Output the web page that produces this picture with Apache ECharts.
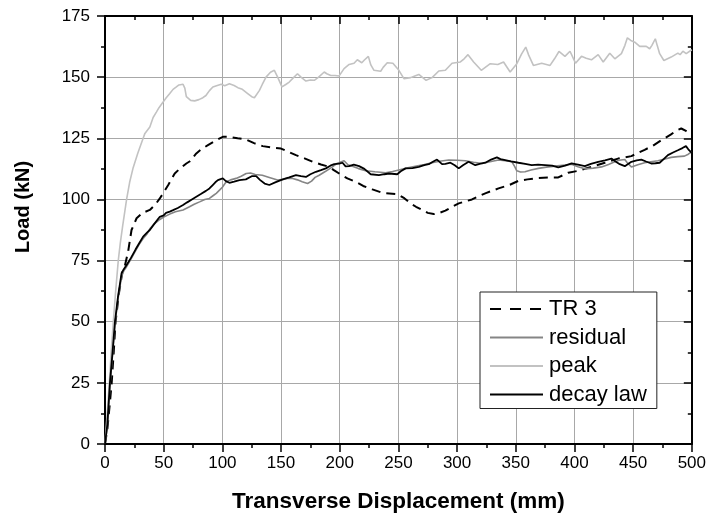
<!DOCTYPE html>
<html>
<head>
<meta charset="utf-8">
<script src="https://cdn.jsdelivr.net/npm/echarts@6/dist/echarts.min.js"></script>
<style>
  html, body { margin: 0; padding: 0; background: #fff; }
  #chart { width: 709px; height: 518px; }
</style>
</head>
<body>
<div id="chart"></div>
<script>
// 坐标轴刻度
const xTicks = { min: 0, max: 500, interval: 50 };
const yTicks = { min: 0, max: 175, interval: 25 };

// 系列名称
const seriesNames = ['TR 3', 'residual', 'peak', 'decay law'];

// [位移 mm, 荷载 kN]
const tr3 = [
  [0,0],[2,6],[4,16],[5.7,25],[7.5,38],[9,50],[12,62],[14.7,70],[17,73],[19.8,79],[22.6,87.5],[26.9,92.3],
  [32,94.5],[38.2,95.7],[43,98],[46.7,100.4],[49.5,102.5],[54,106],[59.4,110.6],[64,112.7],[69.3,114.7],
  [72,115.5],[77.8,118.8],[82,120.5],[87.7,122.2],[94,124],[100.4,125.6],[106,125.6],[113,125],[120.3,124.5],
  [127,123],[134.4,121.8],[142,121.2],[150,120.8],[156,119.5],[162.7,118.1],[170,116.8],[176.8,115.4],
  [184,114.3],[191,113.3],[195,112],[199.5,110.6],[206.5,108.6],[213.7,107.2],[220,105.5],[227.8,104.1],
  [236.3,102.7],[249,102.2],[255,100.5],[260.3,98.4],[265,97],[270.2,95.7],[275,94.5],[280.1,94],[285,94.5],
  [290,95.4],[295,96.8],[301.4,98.4],[307,99.2],[312.7,100],[318,101.2],[324,102.5],[335.3,104.5],[345,106],
  [352.3,107.6],[360,108.2],[369.3,108.8],[378,109],[386.2,109],[394.7,110.9],[403.2,111.7],[414.5,113.3],
  [425.9,115],[437.2,116.7],[448.5,117.7],[459.8,120.3],[467,122],[474,124.2],[482,126.5],[487,128.2],
  [491,129],[495,128],[500,126.5]
];

const residual = [
  [0,0],[2,7],[4.2,24],[6.5,37],[8.5,49],[11,59],[14.1,68.5],[16,70.8],[18.4,72.5],[22,75.5],[26,79],
  [29,81.5],[32.5,84],[36,86],[38.2,88],[42,90],[46.7,91.8],[50,92.8],[55.2,94],[60,95],[66.5,95.7],[72,97],
  [76,98],[80.6,99],[85,100],[89,100.4],[92,101.5],[94.8,102.5],[98,104],[100,105],[103.3,107.2],[107,108],
  [111.7,108.6],[116,109.5],[120.3,110.6],[124,110.8],[128,110.2],[134,109.9],[140,109],[147,107.9],
  [152,108.2],[155,108.6],[159.9,108.6],[164,108],[168,107.2],[172.6,106.5],[176,107.5],[179,109],
  [182.5,109.9],[188,111.5],[193.8,113.3],[198,114.8],[203.7,115.8],[207,114.2],[210.8,113.6],[216,112.6],
  [222.1,111.7],[230,111.3],[239.1,110.9],[245,111.4],[250.4,112],[257,112.8],[264.5,113.6],[272,114.3],
  [278.7,115],[285,115.6],[292.9,116.1],[300,116],[307,115.8],[314,115.2],[321.2,114.7],[328,115.4],
  [335.3,116.1],[341,115.8],[346.7,115.4],[349,113.5],[350.9,111.7],[354,111.2],[357.9,111.3],[363,112],
  [369.3,112.7],[376,113.2],[383.4,113.6],[390,114],[397.6,114.4],[403,113.4],[408.9,112.5],[416,112.8],
  [423.1,113.3],[429,114.3],[434.4,115.4],[438,116],[442.9,116.3],[445,115],[448.5,113.3],[454,114.2],
  [459.8,115],[465,115.4],[471.1,115.8],[477,116.5],[482.4,117.2],[488,117.5],[493.7,117.7],[497,118.5],
  [500,119.5]
];

const peak = [
  [0,0],[1.5,10],[3.7,25],[5.3,38],[7.1,50],[9,62],[11.3,75],[13,82],[15,89],[18.4,100],[21,107],[24,113],
  [28,119],[32.5,125],[34,127],[38.2,129.6],[41,133.5],[43.9,135.8],[46,137.5],[49.5,139.8],[52,141.5],
  [55.2,143.3],[58,145],[60.8,146],[63,146.8],[66.5,147.1],[68,145.5],[69.3,142],[71,141.6],[73,140.5],
  [76.4,140.3],[80,140.8],[83.4,141.6],[86,142.5],[89,144.5],[91.9,146],[95,146.5],[99,147.1],[102,146.5],
  [106,147.3],[110,146.6],[113.2,145.7],[117,145],[121.6,143.3],[125,142],[127.3,141.6],[131.6,144.6],
  [134,147],[137.2,150],[141,152],[144.3,152.8],[147.1,150],[150.8,146],[154,147],[157,148],[160,149.5],
  [164,151.4],[167,150],[171.2,148.4],[175,148.8],[178.3,148.7],[182,150],[186.8,152.1],[189,151.4],
  [192.4,150.7],[196,150.7],[199.5,150.5],[203.7,153.5],[208,155.2],[212.2,155.7],[215,157.1],[218.8,155.9],
  [221,157],[224.4,158.5],[226.5,155],[229.2,152.8],[234.9,152.4],[237,154],[240.5,155.9],[245.3,155.7],
  [250.4,152.8],[254.7,149.4],[260.4,149.8],[264,150.5],[267.4,151.1],[273.6,148.7],[278.7,149.8],
  [284.4,152.5],[290,152.8],[295.7,155.7],[302.8,156.2],[306,157.5],[309.3,159.2],[314.1,156.2],
  [320.6,152.8],[324,154],[328.3,155.5],[334.7,155.2],[339.6,156.2],[345.2,152.1],[350.9,155.5],[355,159.5],
  [358.5,162.3],[361,159],[365,154.8],[372.1,155.7],[379.2,154.8],[383,157.5],[386.8,160.5],[391.9,158.5],
  [396.2,160.6],[400.9,155.7],[406,158.5],[410,157.7],[414.5,157.1],[420.2,159.2],[424.5,156.2],
  [430.1,159.8],[434.4,157.5],[440,159.6],[443,163],[445.1,166.1],[448,165],[451.4,164.3],[455.6,162.6],
  [461.2,162.6],[464.1,161.6],[466,163],[468.9,165.7],[470.5,163],[472.6,159.6],[476.2,156.8],[482.4,158.2],
  [488.1,159.8],[490,159.2],[492.4,160.6],[495.2,159.6],[500,161.2]
];

const decayLaw = [
  [0,0],[2,8],[4.2,25],[6.5,38],[8.5,50],[11,60],[14.1,69.8],[16,71.5],[18.4,73.2],[22,76],[26,79.5],
  [29,82],[32.5,84.8],[36,86.5],[38.2,87.5],[42,90],[46.7,92.9],[50,93.5],[52,94.5],[55.2,95],[58,95.6],
  [62,96.5],[66.5,97.7],[70,98.8],[74,100],[77.8,101.1],[82,102.3],[86,103.5],[89,104.5],[92,106],[94,107],
  [96.2,107.9],[98.5,108.3],[100.4,108.6],[103,107.5],[106,106.8],[110,107.3],[114.6,107.9],[120,108.2],
  [125,109.5],[128.8,109.5],[132,108],[136,106.5],[140,105.9],[145,107],[151.4,108.2],[157,109],
  [162.7,109.9],[167,109.5],[171.2,109.2],[175,110.3],[179.7,111.3],[184,112],[188.2,112.7],[192,113.8],
  [195.3,114.4],[199.5,114.6],[202.4,115],[205,113.5],[208,113.6],[212,114.2],[216.5,113.6],[221,112.5],
  [226.4,110.3],[233.4,109.9],[238,110.3],[242,110.6],[249,110.3],[252,111.5],[256.1,112.7],[262,112.8],
  [267.4,113.3],[272,114],[275.9,114.4],[279,115.3],[282.9,116.3],[287.2,114.4],[290,114.5],[294.3,115],
  [298,114],[301.4,112.7],[305,114],[309.8,115.4],[315.5,114],[320,114.6],[324,115],[329,116.3],
  [333.9,117.2],[337,116.5],[341,116.1],[346,115.6],[352.3,115],[358,114.5],[363.6,114],[369,114.2],
  [375,114],[381,113.8],[386.2,113.1],[392,113.8],[397.6,114.7],[403,114.2],[408.9,113.6],[414,114.5],
  [420.2,115.4],[426,116],[431.5,116.7],[435,115.5],[438.6,114.4],[442.9,113.6],[448.5,115.4],[453,116],
  [457,116.3],[461,115.5],[465.4,114.7],[469,114.8],[472.6,115],[476,116.5],[479.6,118.1],[484,119.2],
  [488.1,120.1],[492,121],[495,121.8],[497,120.5],[500,119]
];

const FONT = '"Liberation Sans", Arial, sans-serif';
const chart = echarts.init(document.getElementById('chart'));

// 主轴（带刻度标签）
const baseAxis = (ticks) => ({
  type: 'value',
  min: ticks.min,
  max: ticks.max,
  interval: ticks.interval,
  axisLine: { show: true, onZero: false, lineStyle: { color: '#000', width: 2 } },
  axisTick: { show: true, inside: false, length: 8, lineStyle: { color: '#000', width: 1.5 } },
  minorTick: { show: true, splitNumber: 2, length: 4, lineStyle: { color: '#000', width: 1.5 } },
  splitLine: { show: true, lineStyle: { color: '#a8a8a8', width: 1 } },
  axisLabel: { color: '#000', fontFamily: FONT, fontSize: 17 },
});

// 镜像轴（上/右，刻度朝内，无标签）
const mirrorAxis = (ticks, position) => ({
  type: 'value',
  position: position,
  min: ticks.min,
  max: ticks.max,
  interval: ticks.interval,
  axisLine: { show: true, onZero: false, lineStyle: { color: '#000', width: 2 } },
  axisTick: { show: true, inside: true, length: 8, lineStyle: { color: '#000', width: 1.5 } },
  minorTick: { show: true, splitNumber: 2, length: 4, lineStyle: { color: '#000', width: 1.5 } },
  splitLine: { show: false },
  axisLabel: { show: false },
});

const xMain = baseAxis(xTicks);
xMain.position = 'bottom';
xMain.axisLabel.margin = 11;
xMain.name = 'Transverse Displacement (mm)';
xMain.nameLocation = 'middle';
xMain.nameGap = 46;
xMain.nameTextStyle = { color: '#000', fontFamily: FONT, fontSize: 22.5, fontWeight: 'bold' };

const yMain = baseAxis(yTicks);
yMain.position = 'left';
yMain.axisLabel.margin = 15;

const lineSeries = (name, data, color, width, type) => ({
  name: name,
  type: 'line',
  data: data,
  xAxisIndex: 0,
  yAxisIndex: 0,
  symbol: 'none',
  showSymbol: false,
  lineStyle: { color: color, width: width, type: type },
  itemStyle: { color: color },
});

// 图例：TR 3 的虚线样本更长
const legendData = seriesNames.map((n, i) =>
  i === 0 ? { name: n, lineStyle: { type: [11, 9], width: 2 } } : { name: n }
);

const option = {
  animation: false,
  backgroundColor: '#fff',
  grid: { left: 105, right: 15, top: 16, bottom: 74, containLabel: false },
  xAxis: [xMain, mirrorAxis(xTicks, 'top')],
  yAxis: [yMain, mirrorAxis(yTicks, 'right')],
  legend: {
    data: legendData,
    orient: 'vertical',
    left: 480,
    top: 292,
    padding: [6, 10, 3, 9],
    itemGap: 6.5,
    itemWidth: 53,
    itemHeight: 14,
    itemStyle: { opacity: 0 },
    backgroundColor: '#fff',
    borderColor: '#222',
    borderWidth: 1,
    borderRadius: 0,
    textStyle: { color: '#000', fontFamily: FONT, fontSize: 22, padding: [0, 0, 0, 1] },
  },
  graphic: [
    {
      type: 'text',
      x: 23,
      y: 207,
      rotation: Math.PI / 2,
      style: {
        text: 'Load (kN)',
        fill: '#000',
        font: 'bold 20px ' + FONT,
        textAlign: 'center',
        textVerticalAlign: 'middle',
      },
    },
  ],
  series: [
    lineSeries(seriesNames[0], tr3, '#000', 2, [9, 6]),
    lineSeries(seriesNames[1], residual, '#858585', 1.6, 'solid'),
    lineSeries(seriesNames[2], peak, '#c2c2c2', 1.6, 'solid'),
    lineSeries(seriesNames[3], decayLaw, '#000', 1.8, 'solid'),
  ],
};

chart.setOption(option);
</script>
</body>
</html>
